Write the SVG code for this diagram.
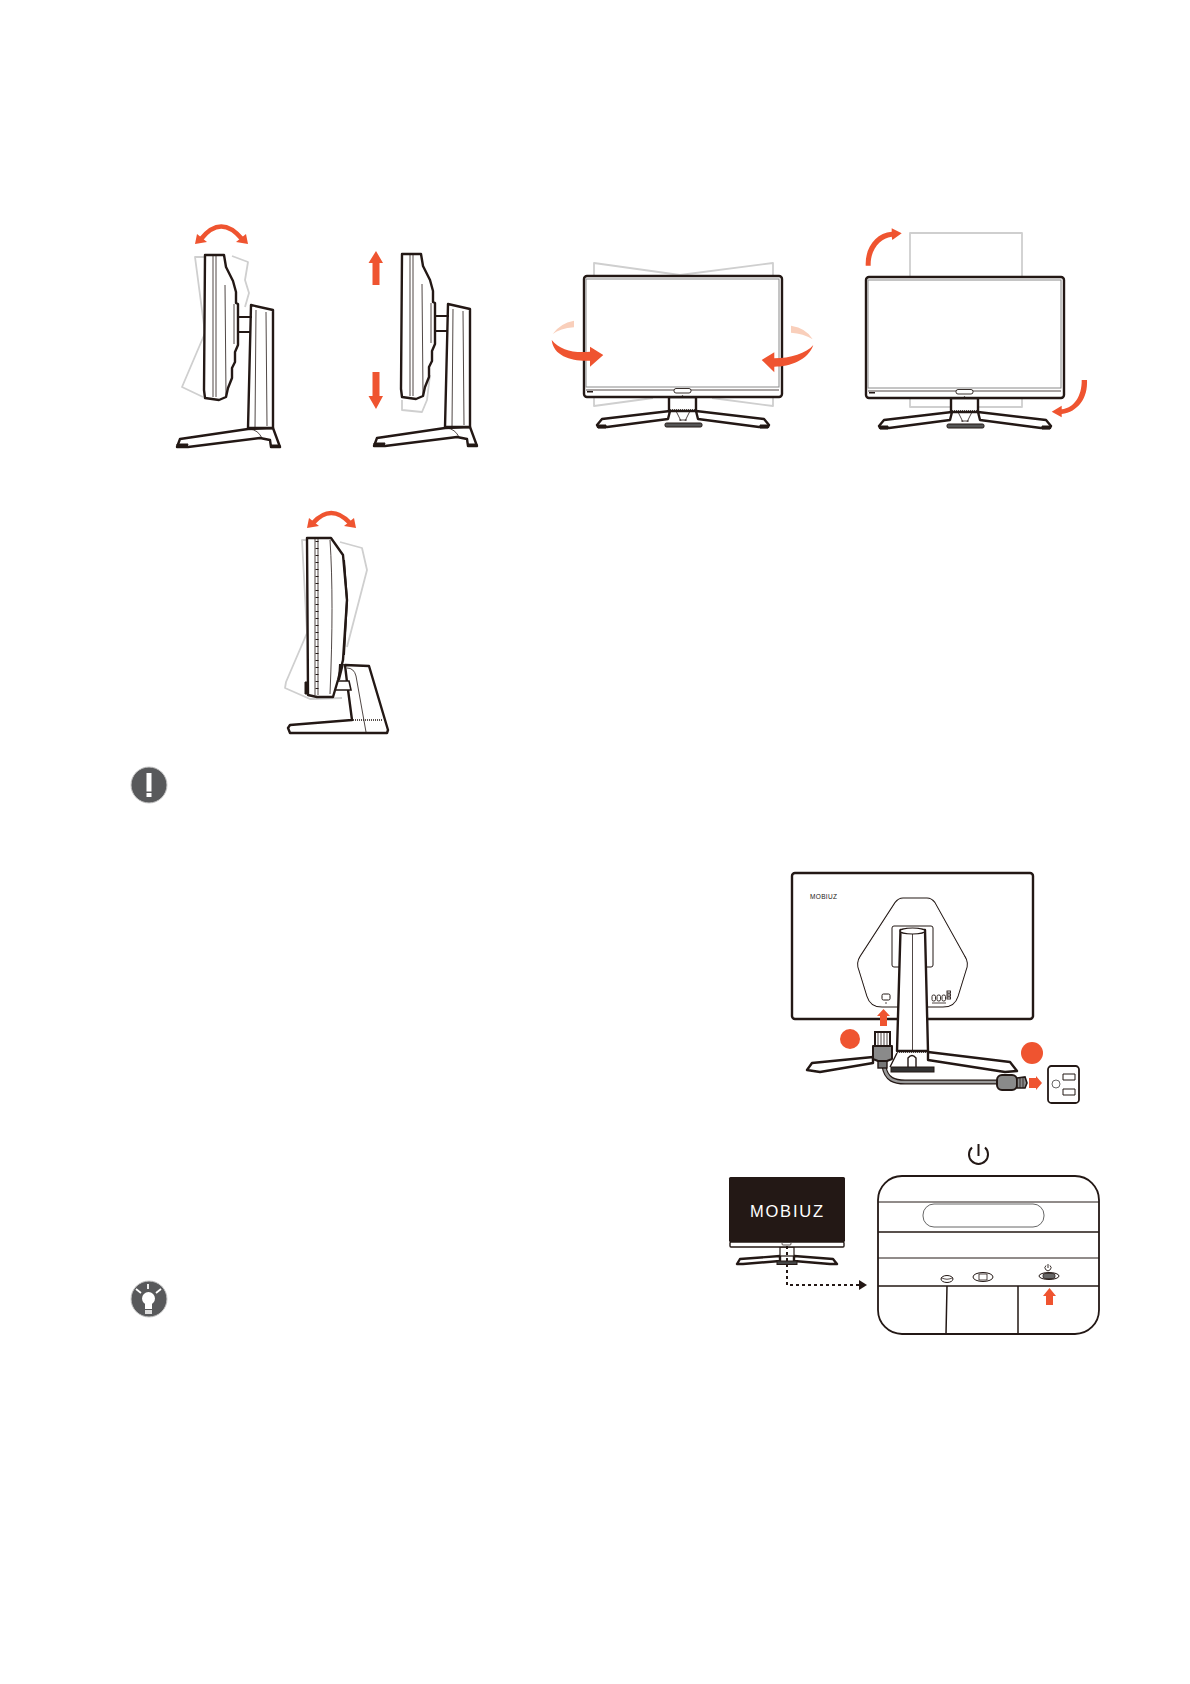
<svg xmlns="http://www.w3.org/2000/svg" width="1190" height="1684" viewBox="0 0 1190 1684">
<style>
.k{fill:#fff;stroke:#231815;stroke-width:2.400;stroke-linejoin:round}
.t{fill:none;stroke:#231815;stroke-width:.8}
.n{fill:none;stroke:#231815;stroke-width:1.400}
.g{fill:none;stroke:#cfcfcf;stroke-width:1.800;stroke-linejoin:round}
.o{fill:#ef5430;stroke:none}
.p{fill:#f9cfbb;stroke:none}
.oa{fill:none;stroke:#ef5430;stroke-width:4.500}
.d{fill:#231815;stroke:#231815;stroke-width:1}
.dots{fill:none;stroke:#231815;stroke-width:1.600;stroke-dasharray:1 1}
.ic{fill:#58595b;stroke:#c8c8c8;stroke-width:1}
</style>
<defs>
<g id="side">
<path class="k" d="M273,428 L280,447 L271,447 L270,440 L260,438 L188,447 L177,447 L180,439 L248,429Z"/>
<path class="d" d="M177,444h11l-1,3h-10ZM271,445h9v2h-9Z"/>
<path class="t" d="M250,429 Q258,430 262,438"/>
<path class="k" d="M251,305 L273,310 L273,428 L248,428Z"/>
<path class="t" d="M256,310 L255,428M266,312 L267,426"/>
<path class="k" d="M205,255 L224,255 L226,267 L233,281 L236,292 L236,303 L238,304 L238,345 L235,352 L235,362 L232,368 L232,378 L228,388 L226,397 L219,400 L205,398 L204,390Z"/>
<path fill="#fff" stroke="#231815" stroke-width="2" d="M238,317 H252M238,332 H251"/>
<path class="t" d="M234,304 V344 M238,317 V332"/>
<path class="t" d="M213,256 L213,397M216,256 L216,397M225,285 L226,395"/>
</g>
<g id="front">
<path class="k" d="M670,411 L602,419 L597,425 L598,427 L607,427 L668,419ZM696,411 L764,419 L769,425 L768,427 L759,427 L698,419Z"/>
<path class="d" d="M597,425h9v3h-8ZM760,425h9l-1,3h-8Z"/>
<path class="k" d="M669,397 H696 V411 H669Z"/>
<path class="dots" d="M670,410 H695"/>
<path class="t" d="M676,411 L681,421M690,411 L685,421M679,420 H687"/>
<rect x="665" y="423" width="37" height="4" rx="1.500" fill="#555" stroke="#231815"/>
<rect class="k" x="584" y="276" width="198" height="121" rx="3"/>
<rect x="586" y="279" width="193" height="108" fill="#fff" stroke="#8a8a8a" stroke-width="1"/>
<path class="t" d="M586,390 H779"/>
<rect x="674" y="388.500" width="17" height="4.500" rx="2" fill="#fff" stroke="#231815" stroke-width=".9"/>
<path d="M587,391h6v1.500h-6Z" fill="#231815"/>
<circle cx="682.500" cy="396" r=".7" fill="#231815"/>
</g>
</defs>

<g id="tilt-side">
<path class="g" d="M205,257 L195,257 L205,333 L182,387 L203,397M232,256 L248,262 L245,280 L249,293 L245,307"/>
<use href="#side"/>
<path class="oa" d="M201,239 Q221,214 242,239"/>
<path class="o" d="M195,244 L197,234 L207,242ZM248,244 L246,234 L236,242Z"/>
</g>
<g id="height-side">
<path class="g" d="M402,400 L402,410 L422,412 L427,400 L430,375"/>
<use href="#side" x="197" y="-1"/>
<path class="o" d="M376,251 L383,263 H379.500 V285 H372.500 V263 H368.500ZM372.500,372 H379.500 V396 H383 L376,409 L368.500,396 H372.500Z"/>
</g>
<g id="swivel-front">
<path class="g" d="M594,277 V263 L680,275 L773,263 V277M594,397 V406 L653,398M773,397 V406 L712,398"/>
<use href="#front"/>
<path class="p" d="M552.700,334 Q560,323.300 574,320.700 L574,327.300 Q560,328.300 552.700,334Z"/>
<path class="o" d="M551.700,340 C553.300,356.700 573.300,361.700 590,360.700 L590,366.700 L603.300,355 L590,346.700 L590,351.700 C573.300,353.300 560,350 551.700,340Z"/>
<path class="p" d="M812.700,339.300 Q806.700,328.300 791,325.700 L791,332.700 Q803.300,333.300 812.700,339.300Z"/>
<path class="o" d="M813.300,345 C808.300,360 790,366.700 774.300,366.700 L774.300,372.300 L761.700,360 L774.300,352.300 L774.300,358.300 C790,358.300 806.700,353.300 813.300,345Z"/>
</g>
<g id="pivot-front">
<path class="g" d="M910,277 V233 H1022 V277M910,398 V407 H1022 V398"/>
<use href="#front" x="282" y="1"/>
<path class="o" d="M865.700,265.700 C865,247 876,233 891.700,231.700 L891.700,228.300 L901.700,233.300 L892.300,240 L891.700,236.700 C880,238 870,250 870.700,265.700Z"/>
<path class="o" d="M1087,380 C1088,398 1078,412 1061.700,414 L1061.700,417.300 L1051.700,411.700 L1061.700,405.700 L1061.700,409.300 C1074,408 1082,396 1081.700,380Z"/>
</g>
<g id="tilt-side-2">
<path class="g" d="M307,540 L302,540 L307,633 L286,682 L285,688 L310,699 L342,698M340,542 L362,548 L367,570 L347,647"/>
<path class="k" d="M345,665 L369,666 L388,730 L387,733 L290,733 L288,728 L290,725 L352,720 L347,682Z"/>
<path class="dots" d="M353,720 H383"/>
<path class="t" d="M347,668 Q354,668 356,676 L366,732"/>
<path fill="#fff" stroke="#231815" stroke-width="1.600" d="M335,681 H349 L351,690 H335Z"/>
<path class="k" d="M307,538 L331,538 L343,555 L347,600 L343,660 L338,680 L333,697 L317,697 L308,695Z"/>
<path class="t" d="M315,539 V695M330,540 Q334,600 330,694"/>
<path fill="none" stroke="#231815" stroke-width="3" stroke-dasharray="1 6" d="M317,541 V695"/>
<path class="t" d="M318,539 V695"/>
<path fill="none" stroke="#231815" stroke-width="2" d="M344,560 L347,600 L344,655"/>
<path d="M339,664 L344,664 L340,680 L338,680Z" fill="#231815"/>
<path class="d" d="M305,682 h3 v12 h-3Z"/>
<path class="oa" d="M313,523 Q331,503 350,523"/>
<path class="o" d="M307,528 L309,518 L319,526ZM356,528 L354,518 L344,526Z"/>
</g>
<g id="note-icon">
<circle class="ic" cx="149" cy="785" r="18"/>
<path d="M146.500,773 H151.500 V791.500 H146.500ZM146.500,793 H151.500 V797 H146.500Z" fill="#fff"/>
</g>
<g id="rear-monitor">
<path class="k" d="M873,1057 L812,1063 L807,1070 L820,1072 L873,1063ZM928,1052 L1010,1062 L1017,1071 L1005,1072 L928,1060Z"/>
<rect x="891" y="1067" width="43" height="5" fill="#333" stroke="#231815"/>
<rect class="k" x="792" y="873" width="241" height="146" rx="3"/>
<text x="810" y="899" font-family="'Liberation Sans',sans-serif" font-size="6.500" textLength="27" fill="#231815">MOBIUZ</text>
<path d="M903,899 H927 Q931,899 934,903 L964,957 Q968,963 965,970 L957,996 Q954,1006 943,1006 H882 Q871,1006 868,996 L860,970 Q857,963 861,957 L896,903 Q899,899 903,899Z" fill="#fff" stroke="#231815" stroke-width="3.200"/>
<path d="M903,899 H927 Q931,899 934,903 L964,957 Q968,963 965,970 L957,996 Q954,1006 943,1006 H882 Q871,1006 868,996 L860,970 Q857,963 861,957 L896,903 Q899,899 903,899Z" fill="#fff" stroke="#fff" stroke-width="1.200"/>
<rect x="892" y="926" width="41" height="41" rx="2" fill="#fff" stroke="#231815" stroke-width="1"/>
<path class="k" d="M900.500,930 L897,1051 H928 L925,930Z" stroke-width="1.800"/>
<ellipse cx="912.500" cy="931" rx="12.500" ry="3" fill="#fff" stroke="#231815" stroke-width="1.200"/>
<path class="t" d="M912.500,934 V1050"/>
<path class="dots" d="M897,1052 H928"/>
<path class="n" d="M908,1067 V1058 Q912,1053 916,1058 V1067M897,1053 L890,1067M928,1053 L928,1060"/>
<rect x="882" y="994" width="8" height="6" rx="1.500" fill="#fff" stroke="#231815"/>
<path class="t" d="M885,1003h2"/>
<g fill="#fff" stroke="#231815" stroke-width=".9"><rect x="932" y="995" width="3.500" height="6" rx="1.500"/><rect x="937" y="995" width="3.500" height="6" rx="1.500"/><rect x="942" y="995" width="3.500" height="6" rx="1.500"/><rect x="947" y="991" width="3.500" height="2"/><rect x="947" y="994" width="3.500" height="2"/><rect x="947" y="997" width="3.500" height="2"/></g>
<path class="t" d="M932,1003h14"/>
</g>
<g id="power-cable">
<path d="M884,1066 C886,1080 895,1082 905,1082 H998" fill="none" stroke="#231815" stroke-width="5"/>
<path d="M884,1066 C886,1080 895,1082 905,1082 H998" fill="none" stroke="#999" stroke-width="2.600"/>
<rect x="878" y="1058" width="9" height="10" fill="#777" stroke="#231815" stroke-width="1.400"/>
<path d="M875,1032 H890 V1046 H875Z" fill="#fff" stroke="#231815" stroke-width="2"/>
<path d="M873,1046 H892 V1059 L887,1061 H878 L873,1059Z" fill="#8a8a8a" stroke="#231815" stroke-width="2" stroke-linejoin="round"/>
<path class="t" d="M878,1032 V1046M881,1032 V1046M884,1032 V1046M887,1032 V1046"/>
<rect x="997" y="1075" width="20" height="15" rx="5" fill="#8a8a8a" stroke="#231815" stroke-width="2"/>
<path d="M1017,1078 L1025,1077 L1027,1083 L1025,1088 L1017,1088Z" fill="#8a8a8a" stroke="#231815" stroke-width="1.600"/>
<path class="t" d="M1020,1077 V1088M1023,1077 V1088"/>
<path class="o" d="M883.500,1009 L890,1016 H887 V1026 H880 V1016 H877ZM1029,1078 H1036 V1076 L1042,1083 L1036,1090 V1088 H1029Z"/>
</g>
<g id="badge-1"><circle class="o" cx="850" cy="1039" r="10"/></g>
<g id="badge-2"><circle class="o" cx="1032" cy="1053" r="11"/></g>
<g id="outlet">
<rect x="1048" y="1066" width="31" height="37" rx="3.500" fill="#fff" stroke="#231815" stroke-width="1.800"/>
<circle cx="1056" cy="1084" r="4" fill="#fff" stroke="#555" stroke-width=".9"/>
<path fill="#fff" stroke="#231815" stroke-width="1" d="M1063,1074h12v6h-12ZM1063,1089h12v6h-12Z"/>
</g>
<g id="power-symbol">
<path d="M972,1147.500 A9.500,9.500 0 1 0 985,1147.500M978.500,1144 V1156" fill="none" stroke="#231815" stroke-width="2"/>
</g>
<g id="front-black">
<path class="k" d="M780,1256 L740,1259 L737,1264 L743,1264 L780,1261ZM794,1256 L833,1259 L837,1264 L830,1264 L794,1261Z" stroke-width="1.600"/>
<rect x="777" y="1261" width="20" height="3.500" fill="#444" stroke="#231815"/>
<rect x="780" y="1247" width="14" height="9" fill="#fff" stroke="#231815" stroke-width="1.200"/>
<rect x="729" y="1177" width="116" height="65" rx="1.500" fill="#231815"/>
<rect x="730" y="1242" width="114" height="5" rx="1" fill="#fff" stroke="#231815" stroke-width="1.400"/>
<rect x="782" y="1242.500" width="9" height="2.500" rx="1" fill="#fff" stroke="#231815" stroke-width=".7"/>
<text x="750" y="1217" font-family="'Liberation Sans',sans-serif" font-size="16.500" textLength="73" fill="#fff">MOBIUZ</text>
</g>
<g id="connectors">
<path d="M787,1246 V1285 H860" fill="none" stroke="#231815" stroke-width="2" stroke-dasharray="3 3"/>
<path d="M859,1280 L867,1285 L859,1290Z" fill="#231815"/>
</g>
<g id="control-panel">
<rect x="878" y="1176" width="221" height="158" rx="24" fill="#fff" stroke="#231815" stroke-width="1.800"/>
<path fill="none" stroke="#231815" stroke-width="1" d="M878,1202 H1099M878,1258 H1099"/>
<path fill="none" stroke="#231815" stroke-width="1.500" d="M878,1232 H1099M878,1286 H1099M947,1286 L946,1334M1018,1286 V1334"/>
<rect x="923" y="1204" width="121" height="23" rx="11" fill="#fff" stroke="#555" stroke-width=".9"/>
<ellipse cx="947" cy="1279" rx="6" ry="3.500" fill="#fff" stroke="#231815"/>
<path class="t" d="M941,1277.500 Q947,1281 953,1277.500"/>
<ellipse cx="983" cy="1277" rx="10" ry="4.500" fill="#fff" stroke="#231815"/>
<rect x="979" y="1274" width="8" height="6" fill="#fff" stroke="#231815" stroke-width=".8"/>
<ellipse cx="1049" cy="1276" rx="10" ry="3.500" fill="#fff" stroke="#231815"/>
<rect x="1043" y="1273.500" width="12" height="5" rx="2" fill="#666" stroke="#231815" stroke-width=".8"/>
<path d="M1046,1265.500 A3,3 0 1 0 1050,1265.500M1048,1264 V1268" fill="none" stroke="#231815" stroke-width=".9"/>
<path class="o" d="M1049.500,1288 L1056,1296 H1053 V1305 H1046 V1296 H1043Z"/>
</g>
<g id="tip-icon" transform="translate(-1,-1)">
<circle class="ic" cx="150" cy="1300" r="18"/>
<circle cx="149.500" cy="1299.500" r="6.500" fill="#fff"/>
<path d="M146,1302 H153 L153,1310 H146Z" fill="#fff"/>
<path d="M146,1311 H153 V1315 H146Z" fill="#ddd"/>
<path d="M149,1285 V1290M137,1290 L142,1294M162,1290 L157,1294" fill="none" stroke="#fff" stroke-width="1.800"/>
</g>
</svg>
